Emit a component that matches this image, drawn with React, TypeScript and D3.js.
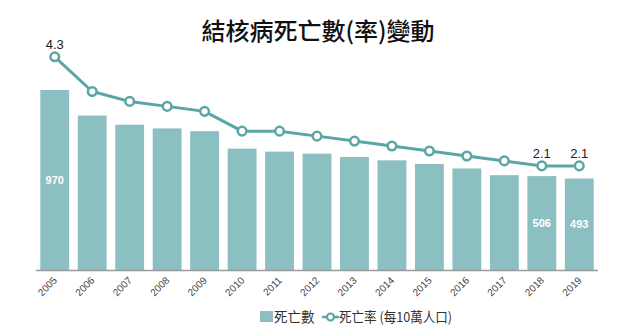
import React from "react";
import * as d3 from "d3";

const years = ["2005","2006","2007","2008","2009","2010","2011","2012","2013","2014","2015","2016","2017","2018","2019"];
const deaths = [970, 832, 783, 763, 748, 654, 638, 627, 609, 591, 571, 547, 511, 506, 493];
const rates = [4.3, 3.6, 3.4, 3.3, 3.2, 2.8, 2.8, 2.7, 2.6, 2.5, 2.4, 2.3, 2.2, 2.1, 2.1];
const deathLabelIdx = [0, 13, 14];
const rateLabelIdx = [0, 13, 14];
const title = "結核病死亡數(率)變動";
const legendBar = "死亡數";
const legendLine = "死亡率 (每10萬人口)";

const W = 640, H = 334;
const BAR = "#8bbfc1";
const LINE = "#5ba5a6";
const CJK = "'Noto Sans CJK TC', 'Noto Sans', sans-serif";
const LAT = "'Liberation Sans', Arial, sans-serif";

export default function App() {
  const baseY = 270;
  const x = d3.scaleBand<string>().domain(years).range([36, 598]).paddingInner(0.23).paddingOuter(0.115);
  const y = d3.scaleLinear().domain([0, 970]).range([baseY, 90]);
  const yr = d3.scaleLinear().domain([0, 4.3]).range([baseY, 56.8]);
  const cx = (d: string) => (x(d) as number) + x.bandwidth() / 2;
  const line = d3.line<number>().x((_, i) => cx(years[i])).y((v) => yr(v));

  return (
    <svg width={W} height={H} style={{ position: "absolute", left: 0, top: 0, background: "#fff" }}>
      <text x={318} y={40} textAnchor="middle" fontFamily={CJK} fontSize={24} fontWeight={500} fill="#111">{title}</text>
      {years.map((yy, i) => (
        <rect key={yy} x={x(yy)} y={y(deaths[i])} width={x.bandwidth()} height={baseY - y(deaths[i])} fill={BAR} />
      ))}
      {deathLabelIdx.map((i) => (
        <text key={"dl" + i} x={cx(years[i])} y={(y(deaths[i]) + baseY) / 2 + 4} textAnchor="middle" fontFamily={LAT} fontWeight="bold" fontSize={11} fill="#fff">{deaths[i]}</text>
      ))}
      <line x1={36} x2={598} y1={baseY + 0.5} y2={baseY + 0.5} stroke="#9a9a9a" strokeWidth={1.5} />
      {years.map((yy) => (
        <text key={"t" + yy} transform={`translate(${cx(yy) + 3},${baseY + 11}) rotate(-45)`} textAnchor="end" fontFamily={LAT} fontSize={10} fill="#444">{yy}</text>
      ))}
      <path d={line(rates) || ""} fill="none" stroke={LINE} strokeWidth={3} />
      {years.map((yy, i) => (
        <circle key={"c" + yy} cx={cx(yy)} cy={yr(rates[i])} r={4.3} fill="#fff" stroke={LINE} strokeWidth={2.5} />
      ))}
      {rateLabelIdx.map((i) => (
        <text key={"rl" + i} x={cx(years[i])} y={yr(rates[i]) - 8} textAnchor="middle" fontFamily={LAT} fontSize={13} fill="#222">{rates[i].toFixed(1)}</text>
      ))}
      <rect x={260} y={311} width={13} height={11} fill={BAR} />
      <text x={274} y={322} fontFamily={CJK} fontSize={13.5} fill="#333">{legendBar}</text>
      <line x1={322} x2={339} y1={317} y2={317} stroke={LINE} strokeWidth={2.5} />
      <circle cx={330.5} cy={317} r={3.5} fill="#fff" stroke={LINE} strokeWidth={2.2} />
      <text x={339} y={322} fontFamily={CJK} fontSize={13.5} fill="#333" textLength={113} lengthAdjust="spacingAndGlyphs">{legendLine}</text>
    </svg>
  );
}
